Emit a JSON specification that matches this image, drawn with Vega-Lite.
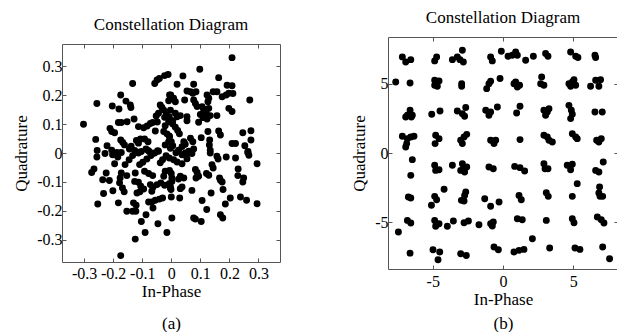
{
  "$schema": "https://vega.github.io/schema/vega-lite/v6.json",
  "background": "white",
  "padding": {"left": 12, "top": 8, "right": 0, "bottom": 0},
  "autosize": {"type": "pad"},
  "config": {
    "font": "Liberation Serif",
    "view": {"stroke": "#555", "strokeWidth": 1},
    "axis": {"grid": false, "domain": false, "tickColor": "#555", "tickSize": -4, "labelFont": "Liberation Serif", "labelFontSize": 16, "labelColor": "black", "labelFlush": false, "labelOverlap": false, "labelBound": false, "titleFont": "Liberation Serif", "titleFontSize": 17, "titleFontWeight": "normal", "titleColor": "black"},
    "title": {"font": "Liberation Serif", "fontSize": 17, "fontWeight": "normal", "color": "black", "frame": "group"}
  },
  "datasets": {
    "a": [
      {"i": -0.302, "q": 0.099}, {"i": -0.256, "q": 0.171}, {"i": -0.26, "q": 0.047}, {"i": -0.255, "q": 0.009}, {"i": -0.203, "q": 0.162}, {"i": -0.18, "q": 0.152}, {"i": -0.174, "q": 0.2}, {"i": -0.156, "q": 0.179}, {"i": -0.141, "q": 0.166}, {"i": -0.139, "q": 0.157},
      {"i": -0.133, "q": 0.24}, {"i": -0.128, "q": 0.117}, {"i": -0.182, "q": 0.105}, {"i": -0.172, "q": 0.105}, {"i": -0.152, "q": 0.108}, {"i": -0.211, "q": 0.085}, {"i": -0.205, "q": 0.074}, {"i": -0.195, "q": 0.07}, {"i": -0.174, "q": 0.045}, {"i": -0.167, "q": 0.036},
      {"i": -0.161, "q": 0.028}, {"i": -0.221, "q": 0.025}, {"i": -0.205, "q": 0.01}, {"i": -0.187, "q": 0.002}, {"i": -0.138, "q": 0.023}, {"i": -0.144, "q": 0.014}, {"i": -0.12, "q": 0.043}, {"i": -0.113, "q": 0.034}, {"i": -0.106, "q": 0.048}, {"i": -0.092, "q": 0.048},
      {"i": -0.08, "q": 0.039}, {"i": -0.113, "q": 0.091}, {"i": -0.095, "q": 0.087}, {"i": -0.083, "q": 0.093}, {"i": -0.072, "q": 0.102}, {"i": -0.064, "q": 0.105}, {"i": -0.048, "q": 0.107}, {"i": -0.055, "q": 0.076}, {"i": -0.057, "q": 0.24}, {"i": -0.049, "q": 0.252},
      {"i": -0.041, "q": 0.257}, {"i": -0.023, "q": 0.267}, {"i": -0.011, "q": 0.271}, {"i": -0.006, "q": 0.2}, {"i": -0.009, "q": 0.18}, {"i": -0.038, "q": 0.166}, {"i": -0.032, "q": 0.157}, {"i": -0.026, "q": 0.148}, {"i": -0.044, "q": 0.137}, {"i": -0.052, "q": 0.128},
      {"i": -0.023, "q": 0.123}, {"i": -0.017, "q": 0.133}, {"i": -0.009, "q": 0.108}, {"i": -0.021, "q": 0.094}, {"i": -0.026, "q": 0.074}, {"i": -0.015, "q": 0.066}, {"i": -0.007, "q": 0.059}, {"i": -0.009, "q": 0.039}, {"i": -0.021, "q": 0.028}, {"i": -0.003, "q": 0.016},
      {"i": -0.126, "q": 0.009}, {"i": -0.116, "q": 0.003}, {"i": -0.103, "q": 0.005}, {"i": -0.087, "q": 0.014}, {"i": -0.076, "q": 0.005}, {"i": -0.063, "q": -0.001}, {"i": -0.047, "q": 0.008},
      {"i": 0.209, "q": 0.329}, {"i": 0.098, "q": 0.289}, {"i": 0.04, "q": 0.266}, {"i": 0.02, "q": 0.237}, {"i": 0.077, "q": 0.237}, {"i": 0.163, "q": 0.26}, {"i": 0.192, "q": 0.234}, {"i": 0.209, "q": 0.232}, {"i": -0.002, "q": 0.2}, {"i": 0.008, "q": 0.189},
      {"i": 0.014, "q": 0.177}, {"i": 0.046, "q": 0.183}, {"i": 0.054, "q": 0.214}, {"i": 0.066, "q": 0.211}, {"i": 0.074, "q": 0.206}, {"i": 0.085, "q": 0.211}, {"i": 0.077, "q": 0.183}, {"i": 0.083, "q": 0.171}, {"i": 0.089, "q": 0.16}, {"i": 0.123, "q": 0.2},
      {"i": 0.129, "q": 0.189}, {"i": 0.126, "q": 0.177}, {"i": 0.144, "q": 0.211}, {"i": 0.157, "q": 0.211}, {"i": 0.175, "q": 0.194}, {"i": 0.189, "q": 0.2}, {"i": 0.198, "q": 0.206}, {"i": 0.212, "q": 0.205}, {"i": 0.27, "q": 0.183}, {"i": 0.198, "q": 0.154},
      {"i": 0.209, "q": 0.143}, {"i": 0.106, "q": 0.16}, {"i": 0.111, "q": 0.151}, {"i": 0.12, "q": 0.14}, {"i": 0.129, "q": 0.154}, {"i": 0.1, "q": 0.133}, {"i": 0.109, "q": 0.122}, {"i": 0.123, "q": 0.117}, {"i": 0.134, "q": 0.129}, {"i": 0.094, "q": 0.106},
      {"i": 0.157, "q": 0.129}, {"i": 0.054, "q": 0.111}, {"i": 0.054, "q": 0.125}, {"i": 0.014, "q": 0.137}, {"i": 0.02, "q": 0.125}, {"i": 0.031, "q": 0.129}, {"i": -0.003, "q": 0.148}, {"i": -0.007, "q": 0.125}, {"i": 0.005, "q": 0.111}, {"i": 0.005, "q": 0.1},
      {"i": 0.014, "q": 0.089}, {"i": 0.022, "q": 0.078}, {"i": 0.028, "q": 0.066}, {"i": 0.066, "q": 0.051}, {"i": 0.074, "q": 0.039}, {"i": 0.103, "q": 0.053}, {"i": 0.126, "q": 0.074}, {"i": 0.132, "q": 0.045}, {"i": 0.163, "q": 0.076}, {"i": 0.169, "q": 0.062},
      {"i": 0.043, "q": 0.039}, {"i": 0.037, "q": 0.022}, {"i": 0.048, "q": 0.03}, {"i": -0.006, "q": 0.056}, {"i": 0.0, "q": 0.039}, {"i": 0.005, "q": 0.025}, {"i": 0.077, "q": 0.014}, {"i": 0.069, "q": 0.005}, {"i": 0.057, "q": -0.001}, {"i": 0.025, "q": 0.01},
      {"i": 0.016, "q": 0.001}, {"i": 0.131, "q": 0.028}, {"i": 0.134, "q": 0.01}, {"i": 0.209, "q": 0.033}, {"i": 0.221, "q": 0.033}, {"i": 0.246, "q": 0.07}, {"i": 0.274, "q": 0.077}, {"i": 0.274, "q": 0.045}, {"i": 0.253, "q": 0.025}, {"i": 0.264, "q": 0.005},
      {"i": -0.274, "q": -0.067}, {"i": -0.266, "q": -0.055}, {"i": -0.256, "q": -0.014}, {"i": -0.228, "q": -0.002}, {"i": -0.202, "q": -0.006}, {"i": -0.195, "q": -0.037}, {"i": -0.184, "q": -0.014}, {"i": -0.172, "q": 0.002}, {"i": -0.236, "q": -0.092}, {"i": -0.224, "q": -0.069},
      {"i": -0.213, "q": -0.095}, {"i": -0.233, "q": -0.14}, {"i": -0.253, "q": -0.176}, {"i": -0.201, "q": -0.13}, {"i": -0.178, "q": -0.103}, {"i": -0.182, "q": -0.172}, {"i": -0.159, "q": -0.04}, {"i": -0.145, "q": -0.023}, {"i": -0.133, "q": -0.009}, {"i": -0.172, "q": -0.069},
      {"i": -0.176, "q": -0.086}, {"i": -0.153, "q": -0.078}, {"i": -0.168, "q": -0.121}, {"i": -0.162, "q": -0.134}, {"i": -0.153, "q": -0.201}, {"i": -0.133, "q": -0.201}, {"i": -0.122, "q": -0.201}, {"i": -0.13, "q": -0.172}, {"i": -0.121, "q": -0.18}, {"i": -0.124, "q": -0.069},
      {"i": -0.126, "q": -0.098}, {"i": -0.113, "q": -0.101}, {"i": -0.118, "q": -0.138}, {"i": -0.108, "q": -0.134}, {"i": -0.105, "q": -0.115}, {"i": -0.095, "q": -0.124}, {"i": -0.103, "q": -0.236}, {"i": -0.087, "q": -0.213}, {"i": -0.124, "q": -0.297}, {"i": -0.09, "q": -0.274},
      {"i": -0.174, "q": -0.354}, {"i": -0.046, "q": -0.244}, {"i": -0.015, "q": -0.274}, {"i": -0.063, "q": -0.19}, {"i": -0.078, "q": -0.169}, {"i": -0.067, "q": -0.169}, {"i": -0.055, "q": -0.163}, {"i": -0.041, "q": -0.159}, {"i": -0.03, "q": -0.155}, {"i": -0.067, "q": -0.132},
      {"i": -0.063, "q": -0.118}, {"i": -0.072, "q": -0.109}, {"i": -0.049, "q": -0.109}, {"i": -0.036, "q": -0.103}, {"i": -0.023, "q": -0.111}, {"i": -0.007, "q": -0.106}, {"i": -0.092, "q": -0.063}, {"i": -0.078, "q": -0.071}, {"i": -0.064, "q": -0.078}, {"i": -0.109, "q": -0.04},
      {"i": -0.098, "q": -0.032}, {"i": -0.084, "q": -0.021}, {"i": -0.07, "q": -0.009}, {"i": -0.057, "q": 0.0}, {"i": -0.044, "q": 0.006}, {"i": -0.038, "q": -0.034}, {"i": -0.03, "q": -0.023}, {"i": -0.018, "q": -0.009}, {"i": -0.007, "q": -0.017}, {"i": 0.002, "q": -0.224},
      {"i": 0.002, "q": -0.098}, {"i": -0.003, "q": -0.121}, {"i": -0.021, "q": -0.063}, {"i": -0.026, "q": -0.08}, {"i": -0.113, "q": 0.0}, {"i": -0.08, "q": 0.009},
      {"i": 0.134, "q": 0.0}, {"i": 0.157, "q": -0.011}, {"i": 0.161, "q": -0.021}, {"i": 0.189, "q": -0.014}, {"i": 0.221, "q": -0.017}, {"i": 0.263, "q": 0.002}, {"i": 0.267, "q": -0.008}, {"i": 0.295, "q": -0.037}, {"i": 0.14, "q": -0.04}, {"i": 0.144, "q": -0.052},
      {"i": 0.23, "q": -0.055}, {"i": 0.229, "q": -0.078}, {"i": 0.249, "q": -0.086}, {"i": 0.246, "q": -0.1}, {"i": 0.166, "q": -0.086}, {"i": 0.169, "q": -0.094}, {"i": 0.175, "q": -0.1}, {"i": 0.121, "q": -0.071}, {"i": 0.129, "q": -0.077}, {"i": 0.083, "q": -0.057},
      {"i": 0.089, "q": -0.067}, {"i": 0.085, "q": -0.086}, {"i": 0.094, "q": -0.08}, {"i": 0.031, "q": -0.08}, {"i": 0.043, "q": -0.086}, {"i": 0.025, "q": -0.09}, {"i": 0.002, "q": -0.086}, {"i": -0.003, "q": -0.117}, {"i": -0.001, "q": -0.126}, {"i": 0.037, "q": -0.117},
      {"i": 0.031, "q": -0.123}, {"i": 0.071, "q": -0.129}, {"i": 0.178, "q": -0.126}, {"i": 0.137, "q": -0.138}, {"i": 0.106, "q": -0.164}, {"i": 0.203, "q": -0.155}, {"i": 0.238, "q": -0.152}, {"i": 0.259, "q": -0.163}, {"i": 0.295, "q": -0.175}, {"i": 0.186, "q": -0.176},
      {"i": 0.122, "q": -0.195}, {"i": 0.0, "q": -0.152}, {"i": 0.029, "q": -0.155}, {"i": 0.077, "q": -0.224}, {"i": 0.083, "q": -0.228}, {"i": 0.103, "q": -0.236}, {"i": 0.169, "q": -0.213}, {"i": 0.177, "q": -0.224}, {"i": 0.048, "q": 0.0}, {"i": 0.06, "q": 0.006},
      {"i": 0.071, "q": -0.002}, {"i": 0.037, "q": -0.006}, {"i": 0.008, "q": -0.023}, {"i": 0.02, "q": -0.031}, {"i": 0.037, "q": -0.037}, {"i": 0.054, "q": -0.02}, {"i": -0.006, "q": -0.06}, {"i": 0.0, "q": -0.071}
    ],
    "b": [
      {"i": -7.16, "q": 6.96}, {"i": -6.92, "q": 6.59}, {"i": -6.56, "q": 6.76}, {"i": -4.86, "q": 6.67}, {"i": -4.72, "q": 6.96}, {"i": -3.6, "q": 6.76}, {"i": -3.25, "q": 6.96}, {"i": -3.06, "q": 6.76}, {"i": -2.89, "q": 7.44}, {"i": -2.82, "q": 6.59},
      {"i": -0.88, "q": 6.96}, {"i": -0.76, "q": 6.67}, {"i": -0.12, "q": 7.37}, {"i": 0.36, "q": 7.0}, {"i": 0.66, "q": 7.08}, {"i": 0.9, "q": 7.32}, {"i": 1.02, "q": 7.08}, {"i": 1.61, "q": 6.71}, {"i": 2.16, "q": 7.0}, {"i": 3.03, "q": 7.2},
      {"i": 3.2, "q": 7.0}, {"i": 4.81, "q": 7.32}, {"i": 5.17, "q": 7.0}, {"i": 5.33, "q": 6.91}, {"i": 6.54, "q": 7.08}, {"i": 6.59, "q": 6.91},
      {"i": -7.63, "q": 5.14}, {"i": -6.61, "q": 5.07}, {"i": -4.86, "q": 5.27}, {"i": -4.86, "q": 4.9}, {"i": -4.67, "q": 4.83}, {"i": -4.55, "q": 5.22}, {"i": -2.94, "q": 5.02}, {"i": -2.94, "q": 4.83}, {"i": -1.16, "q": 4.66}, {"i": -1.0, "q": 5.02},
      {"i": -0.88, "q": 5.19}, {"i": -0.21, "q": 5.39}, {"i": 0.78, "q": 5.02}, {"i": 1.02, "q": 4.78}, {"i": 0.9, "q": 5.14}, {"i": 1.18, "q": 4.9}, {"i": 2.75, "q": 5.51}, {"i": 2.68, "q": 5.02}, {"i": 2.91, "q": 4.9}, {"i": 4.69, "q": 5.02},
      {"i": 4.93, "q": 5.14}, {"i": 5.05, "q": 5.31}, {"i": 4.81, "q": 4.83}, {"i": 5.17, "q": 4.9}, {"i": 6.23, "q": 4.83}, {"i": 6.59, "q": 5.27}, {"i": 6.94, "q": 5.31}, {"i": 6.82, "q": 4.83},
      {"i": -6.8, "q": 2.73}, {"i": -6.61, "q": 3.09}, {"i": -6.52, "q": 2.61}, {"i": -6.92, "q": 2.61}, {"i": -6.45, "q": 2.73}, {"i": -5.07, "q": 2.8}, {"i": -4.48, "q": 3.04}, {"i": -3.25, "q": 3.04}, {"i": -2.89, "q": 2.85}, {"i": -2.65, "q": 3.29},
      {"i": -2.73, "q": 2.66}, {"i": -1.23, "q": 3.09}, {"i": -1.0, "q": 2.73}, {"i": -0.88, "q": 2.97}, {"i": -0.4, "q": 3.33}, {"i": 0.97, "q": 2.9}, {"i": 1.21, "q": 3.38}, {"i": 2.91, "q": 3.09}, {"i": 3.15, "q": 2.97}, {"i": 3.03, "q": 2.73},
      {"i": 3.27, "q": 3.21}, {"i": 4.69, "q": 3.45}, {"i": 4.86, "q": 3.09}, {"i": 4.93, "q": 2.8}, {"i": 4.81, "q": 2.49}, {"i": 6.54, "q": 2.97}, {"i": 7.06, "q": 2.97},
      {"i": -7.16, "q": 1.21}, {"i": -6.8, "q": 1.04}, {"i": -6.56, "q": 1.16}, {"i": -6.33, "q": 1.21}, {"i": -6.85, "q": 0.68}, {"i": -6.92, "q": 0.43}, {"i": -4.79, "q": 1.28}, {"i": -4.83, "q": 0.68}, {"i": -4.55, "q": 1.04}, {"i": -3.01, "q": 0.92},
      {"i": -2.89, "q": 0.68}, {"i": -2.58, "q": 1.35}, {"i": -2.77, "q": 1.16}, {"i": -0.88, "q": 0.92}, {"i": -0.52, "q": 0.92}, {"i": -0.64, "q": 0.68}, {"i": 1.21, "q": 0.97}, {"i": 2.91, "q": 1.28}, {"i": 3.27, "q": 0.92}, {"i": 3.51, "q": 0.8},
      {"i": 3.15, "q": 1.16}, {"i": 4.93, "q": 1.4}, {"i": 5.17, "q": 1.16}, {"i": 5.28, "q": 1.04}, {"i": 6.66, "q": 0.92}, {"i": 6.99, "q": 1.04}, {"i": 6.82, "q": 0.8},
      {"i": -6.45, "q": -0.48}, {"i": -6.56, "q": -1.62}, {"i": -4.86, "q": -0.89}, {"i": -4.79, "q": -1.26}, {"i": -4.55, "q": -1.21}, {"i": -3.6, "q": -0.89}, {"i": -2.89, "q": -0.77}, {"i": -2.82, "q": -1.14}, {"i": -2.58, "q": -1.01}, {"i": -3.01, "q": -1.26},
      {"i": -2.73, "q": -1.38}, {"i": -1.0, "q": -1.01}, {"i": -0.69, "q": -1.14}, {"i": 0.83, "q": -0.97}, {"i": 1.21, "q": -1.06}, {"i": 1.54, "q": -1.3}, {"i": 2.91, "q": -0.77}, {"i": 2.99, "q": -1.14}, {"i": 3.2, "q": -1.14}, {"i": 4.57, "q": -0.89},
      {"i": 4.93, "q": -0.82}, {"i": 4.81, "q": -1.21}, {"i": 6.59, "q": -1.26}, {"i": 6.82, "q": -1.38}, {"i": 7.13, "q": -0.65},
      {"i": -6.73, "q": -3.19}, {"i": -6.56, "q": -3.26}, {"i": -4.86, "q": -3.14}, {"i": -4.72, "q": -3.38}, {"i": -5.09, "q": -3.79}, {"i": -4.19, "q": -2.63}, {"i": -2.73, "q": -3.07}, {"i": -2.65, "q": -2.83}, {"i": -2.96, "q": -3.43}, {"i": -2.77, "q": -3.48},
      {"i": -1.3, "q": -3.31}, {"i": -0.88, "q": -3.86}, {"i": -0.28, "q": -3.55}, {"i": 1.14, "q": -3.07}, {"i": 1.3, "q": -3.38}, {"i": 3.08, "q": -2.87}, {"i": 3.22, "q": -3.14}, {"i": 4.93, "q": -3.14}, {"i": 5.28, "q": -2.22}, {"i": 6.87, "q": -2.46},
      {"i": 6.82, "q": -2.9}, {"i": 6.9, "q": -3.14}, {"i": 7.09, "q": -3.14},
      {"i": -7.44, "q": -5.72}, {"i": -6.8, "q": -4.88}, {"i": -6.56, "q": -5.07}, {"i": -4.86, "q": -4.88}, {"i": -4.79, "q": -5.31}, {"i": -4.55, "q": -5.12}, {"i": -3.96, "q": -5.31}, {"i": -3.53, "q": -4.93}, {"i": -2.77, "q": -5.05}, {"i": -2.46, "q": -4.93},
      {"i": -1.71, "q": -5.19}, {"i": -0.88, "q": -5.12}, {"i": -0.76, "q": -5.29}, {"i": -0.69, "q": -5.0}, {"i": 1.02, "q": -4.76}, {"i": 1.37, "q": -4.83}, {"i": 3.08, "q": -4.88}, {"i": 4.93, "q": -4.76}, {"i": 5.05, "q": -5.05}, {"i": 6.71, "q": -4.64},
      {"i": 6.99, "q": -4.83}, {"i": 7.18, "q": -5.07},
      {"i": -6.61, "q": -7.25}, {"i": -4.98, "q": -7.0}, {"i": -4.5, "q": -7.17}, {"i": -4.62, "q": -7.73}, {"i": -3.01, "q": -7.29}, {"i": -2.61, "q": -7.42}, {"i": -0.64, "q": -6.81}, {"i": -0.33, "q": -7.0}, {"i": 0.78, "q": -7.17}, {"i": 1.14, "q": -7.05},
      {"i": 1.49, "q": -6.98}, {"i": 2.09, "q": -6.21}, {"i": 3.32, "q": -6.88}, {"i": 5.12, "q": -6.88}, {"i": 5.47, "q": -6.98}, {"i": 7.09, "q": -6.81}, {"i": 7.58, "q": -7.66}
    ]
  },
  "hconcat": [
    {
      "width": 218,
      "height": 218,
      "data": {"name": "a"},
      "title": {"text": "Constellation Diagram", "offset": 10},
      "layer": [
        {
          "mark": {"type": "circle", "size": 48, "opacity": 1, "color": "black"},
          "encoding": {
            "x": {"field": "i", "type": "quantitative", "scale": {"domain": [-0.376, 0.374], "nice": false, "zero": false},
              "axis": {"orient": "bottom", "values": [-0.3, -0.2, -0.1, 0, 0.1, 0.2, 0.3], "labelExpr": "replace(format(datum.value, '~g'), '\u2212', '-')", "labelPadding": 7, "title": ["In-Phase", "(a)"], "titleLineHeight": 32, "titlePadding": 2}},
            "y": {"field": "q", "type": "quantitative", "scale": {"domain": [-0.376, 0.376], "nice": false, "zero": false},
              "axis": {"orient": "left", "values": [-0.3, -0.2, -0.1, 0, 0.1, 0.2, 0.3], "labelExpr": "replace(format(datum.value, '~g'), '\u2212', '-')", "labelPadding": 4, "title": "Quadrature", "titlePadding": 6}}
          }
        },
        {
          "mark": {"type": "circle", "opacity": 0},
          "encoding": {
            "x": {"field": "i", "type": "quantitative", "axis": {"orient": "top", "values": [-0.3, -0.2, -0.1, 0, 0.1, 0.2, 0.3], "labels": false, "title": null}},
            "y": {"field": "q", "type": "quantitative", "axis": {"orient": "right", "values": [-0.3, -0.2, -0.1, 0, 0.1, 0.2, 0.3], "labels": false, "title": null}}
          }
        }
      ],
      "resolve": {"axis": {"x": "independent", "y": "independent"}}
    },
    {
      "width": 230,
      "height": 232,
      "data": {"name": "b"},
      "title": {"text": "Constellation Diagram", "offset": 10},
      "layer": [
        {
          "mark": {"type": "circle", "size": 48, "opacity": 1, "color": "black"},
          "encoding": {
            "x": {"field": "i", "type": "quantitative", "scale": {"domain": [-8.18, 8.18], "nice": false, "zero": false},
              "axis": {"orient": "bottom", "values": [-5, 0, 5], "labelExpr": "replace(format(datum.value, '~g'), '\u2212', '-')", "labelPadding": 8, "title": ["In-Phase", "(b)"], "titleLineHeight": 24, "titlePadding": 2}},
            "y": {"field": "q", "type": "quantitative", "scale": {"domain": [-8.4, 8.4], "nice": false, "zero": false},
              "axis": {"orient": "left", "values": [-5, 0, 5], "labelExpr": "replace(format(datum.value, '~g'), '\u2212', '-')", "labelPadding": 4, "title": "Quadrature", "titlePadding": 6}}
          }
        },
        {
          "mark": {"type": "circle", "opacity": 0},
          "encoding": {
            "x": {"field": "i", "type": "quantitative", "axis": {"orient": "top", "values": [-5, 0, 5], "labels": false, "title": null}},
            "y": {"field": "q", "type": "quantitative", "axis": {"orient": "right", "values": [-5, 0, 5], "labels": false, "title": null}}
          }
        }
      ],
      "resolve": {"axis": {"x": "independent", "y": "independent"}}
    }
  ],
  "spacing": 108,
  "bounds": "flush",
  "center": true
}
